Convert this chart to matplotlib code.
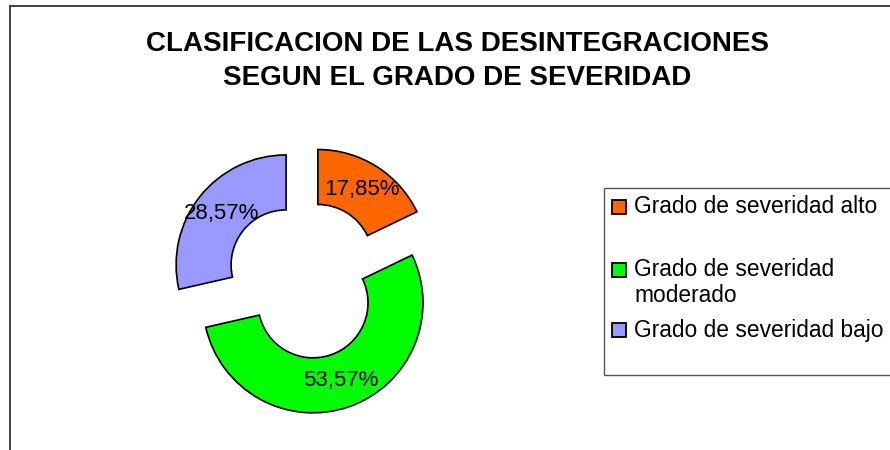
import matplotlib
matplotlib.use('Agg')
import matplotlib.pyplot as plt
from matplotlib.patches import Rectangle
from matplotlib.lines import Line2D

plt.rcParams['font.family'] = ['Liberation Sans', 'DejaVu Sans']

categorias = ['Grado de severidad alto', 'Grado de severidad\nmoderado', 'Grado de severidad bajo']
valores = [17.85, 53.57, 28.57]
colores = ['#FF6600', '#00FF00', '#9999FF']
titulo = ['CLASIFICACION DE LAS DESINTEGRACIONES', 'SEGUN EL GRADO DE SEVERIDAD']

W, H = 890, 450
fig = plt.figure(figsize=(W / 100, H / 100), dpi=100)


def fx(px):
    return px / W


def fy(py):
    return 1 - py / H


# marco exterior (cortado a la derecha y abajo)
fig.add_artist(Line2D([fx(10), 1], [fy(6), fy(6)], color='#333333', lw=1.3))
fig.add_artist(Line2D([fx(10), fx(10)], [fy(6), 0], color='#333333', lw=1.3))

fig.text(fx(457), fy(44), titulo[0], ha='center', va='center', fontsize=20, fontweight='bold')
fig.text(fx(457), fy(78), titulo[1], ha='center', va='center', fontsize=20, fontweight='bold')

# dona separada
ax = fig.add_axes([fx(154), fy(431), 302 / W, 302 / H])
wedges, textos, autotextos = ax.pie(valores, colors=colores, startangle=90, counterclock=False,
                                    explode=[0.22, 0.22, 0.22], radius=1,
                                    wedgeprops=dict(width=0.5, edgecolor='black', linewidth=1.2),
                                    autopct='%1.2f%%', pctdistance=0.75,
                                    textprops=dict(fontsize=16))
for t, v in zip(autotextos, valores):
    t.set_text(f'{v:.2f}'.replace('.', ',') + '%')
ax.set_xlim(-1.373, 1.373)
ax.set_ylim(-1.373, 1.373)
ax.set_aspect('equal')
ax.axis('off')

# leyenda
fig.add_artist(Rectangle((fx(604), fy(375)), 1 - fx(604) + 0.01, (375 - 188) / H,
                         transform=fig.transFigure, fill=False, edgecolor='#555555', lw=1.0))
filas = [207, 270, 330]
for cat, col, yy in zip(categorias, colores, filas):
    fig.add_artist(Rectangle((fx(612), fy(yy + 7)), 14 / W, 14 / H, transform=fig.transFigure,
                             facecolor=col, edgecolor='black', lw=1.3))
    for k, linea in enumerate(cat.split('\n')):
        fig.text(fx(634), fy(yy + 26 * k), linea, ha='left', va='center', fontsize=16.4)

fig.savefig('out.png', dpi=100)
